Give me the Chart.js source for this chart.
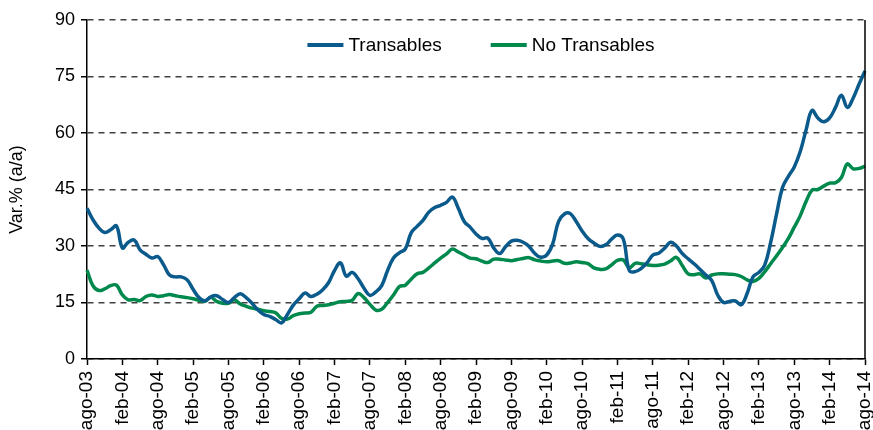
<!DOCTYPE html>
<html><head><meta charset="utf-8">
<script src="https://cdn.jsdelivr.net/npm/chart.js@4/dist/chart.umd.min.js"></script>
<style>html,body{margin:0;padding:0;background:#fff;}</style>
</head><body>
<canvas id="c" width="873" height="430"></canvas>
<script>
const monthNames = ['ene','feb','mar','abr','may','jun','jul','ago','sep','oct','nov','dic'];
const startMonth = 7, startYear = 3, nMonths = 133;
const categories = [];
for (let i = 0; i < nMonths; i++) {
  const m = (startMonth + i) % 12, y = startYear + Math.floor((startMonth + i) / 12);
  categories.push(monthNames[m] + '-' + String(y).padStart(2, '0'));
}
const transables = [
 40.0,37.0,34.8,33.6,34.3,35.3,29.5,31.0,31.6,29.0,27.8,26.8,27.2,25.0,22.3,21.8,21.8,21.0,18.5,16.3,
 15.4,16.5,16.8,15.8,15.0,16.3,17.3,16.3,14.8,13.0,11.8,11.3,10.5,9.6,11.8,14.3,16.0,17.5,16.6,17.2,
 18.4,20.3,23.5,25.5,22.0,23.0,21.3,18.8,16.9,17.8,19.5,23.5,26.8,28.2,29.2,33.5,35.2,36.8,39.0,40.2,
 40.8,41.6,43.0,40.0,36.5,35.0,33.2,32.0,32.1,29.5,28.0,29.8,31.3,31.5,31.0,29.9,28.0,27.0,27.6,30.5,
 36.5,38.5,38.6,36.5,34.0,32.0,30.8,29.9,30.3,31.8,32.9,31.8,23.5,23.2,24.0,25.5,27.6,28.1,29.4,31.0,
 30.0,28.0,26.6,25.3,23.8,22.3,20.8,17.0,15.0,15.3,15.4,14.4,17.4,21.8,23.0,25.0,31.0,38.5,45.5,48.5,
 51.0,55.0,60.8,66.0,64.0,63.0,64.0,66.8,70.0,66.8,69.3,73.0,76.5
];
const noTransables = [
 23.6,19.5,18.2,18.6,19.5,19.6,17.0,15.7,15.8,15.5,16.6,17.0,16.6,16.8,17.1,16.8,16.5,16.3,16.0,15.6,
 15.3,16.4,15.3,14.8,14.8,15.7,14.6,14.0,13.5,13.2,12.8,12.6,12.3,10.8,10.6,11.5,12.0,12.2,12.4,14.0,
 14.2,14.4,14.8,15.2,15.3,15.6,17.4,16.3,14.5,13.0,13.2,15.0,17.0,19.2,19.6,21.2,22.6,23.0,24.2,25.5,
 26.8,27.9,29.2,28.4,27.6,26.8,26.6,26.0,25.6,26.5,26.5,26.3,26.1,26.4,26.7,26.9,26.3,26.0,25.8,26.0,
 26.1,25.4,25.5,25.8,25.6,25.3,24.2,23.8,23.9,25.0,26.2,26.3,24.2,25.4,25.3,25.0,24.8,24.9,25.2,26.0,
 27.0,24.8,22.6,22.4,22.6,21.5,22.3,22.6,22.6,22.5,22.4,21.9,21.0,20.6,21.4,23.2,25.3,27.4,29.6,32.0,
 35.0,38.0,41.8,44.8,45.0,45.9,46.7,46.8,48.2,51.8,50.5,50.6,51.2
];
const yTicks = [0,15,30,45,60,75,90];

const FONT = "'Liberation Sans', Arial, sans-serif";
const BLUE = '#0b5a8c', GREEN = '#00894c';

const legendPlugin = {
  id: 'inLegend',
  afterDraw(chart) {
    const ctx = chart.ctx, a = chart.chartArea;
    ctx.save();
    ctx.font = '19px ' + FONT;
    ctx.textBaseline = 'middle';
    const y = a.top + 25;
    const lineW = 36, gap = 5, between = 49;
    const items = chart.data.datasets.map(d => ({label: d.label, color: d.borderColor, w: ctx.measureText(d.label).width}));
    let total = 0;
    items.forEach((it, k) => { total += lineW + gap + it.w + (k < items.length - 1 ? between : 0); });
    let x = (a.left + a.right) / 2 - total / 2 + 5;
    items.forEach(it => {
      ctx.strokeStyle = it.color; ctx.lineWidth = 4; ctx.lineCap = 'butt';
      ctx.beginPath(); ctx.moveTo(x, y); ctx.lineTo(x + lineW, y); ctx.stroke();
      ctx.fillStyle = '#000'; ctx.fillText(it.label, x + lineW + gap, y + 1);
      x += lineW + gap + it.w + between;
    });
    // right border
    ctx.strokeStyle = '#000'; ctx.lineWidth = 1.5;
    ctx.beginPath(); ctx.moveTo(a.right, a.top); ctx.lineTo(a.right, a.bottom); ctx.stroke();
    ctx.restore();
  }
};

new Chart(document.getElementById('c'), {
  type: 'line',
  data: {
    labels: categories,
    datasets: [
      {label: 'Transables', data: transables, borderColor: BLUE, borderWidth: 3.5, pointRadius: 0, tension: 0.4, fill: false},
      {label: 'No Transables', data: noTransables, borderColor: GREEN, borderWidth: 3.5, pointRadius: 0, tension: 0.4, fill: false}
    ]
  },
  options: {
    responsive: false,
    animation: false,
    devicePixelRatio: 1,
    layout: {padding: {top: 20, right: 8, left: 0, bottom: 0}},
    plugins: {legend: {display: false}, tooltip: {enabled: false}},
    scales: {
      x: {
        type: 'category',
        offset: false,
        grid: {drawOnChartArea: false, drawTicks: true, tickLength: 6, tickWidth: 1.5,
               tickColor: (c) => (c.index % 6 === 0 ? '#000' : 'rgba(0,0,0,0)')},
        border: {display: true, color: '#000', width: 1.5},
        ticks: {autoSkip: false, minRotation: 90, maxRotation: 90, padding: 6, color: '#000',
                font: {family: FONT, size: 19},
                callback: function (v, i) { return i % 6 === 0 ? this.getLabelForValue(v) : ''; }},
        afterFit: (s) => { s.height = 71; s.paddingLeft = 0; s.paddingRight = 0; }
      },
      y: {
        min: 0, max: 90,
        afterBuildTicks: (s) => { s.ticks = yTicks.map(v => ({value: v})); },
        grid: {color: '#404040', lineWidth: 1.5, drawTicks: true, tickLength: 6, tickColor: '#000', tickWidth: 1.5},
        border: {display: true, color: '#000', width: 1.5, dash: [6, 5]},
        ticks: {padding: 6, color: '#000', font: {family: FONT, size: 18}},
        title: {display: true, text: 'Var.% (a/a)', color: '#000', font: {family: FONT, size: 18}, padding: {top: 6, bottom: 4}},
        afterFit: (s) => { s.width = 87; s.paddingTop = 0; s.paddingBottom = 0; }
      }
    }
  },
  plugins: [legendPlugin]
});
</script>
</body></html>
